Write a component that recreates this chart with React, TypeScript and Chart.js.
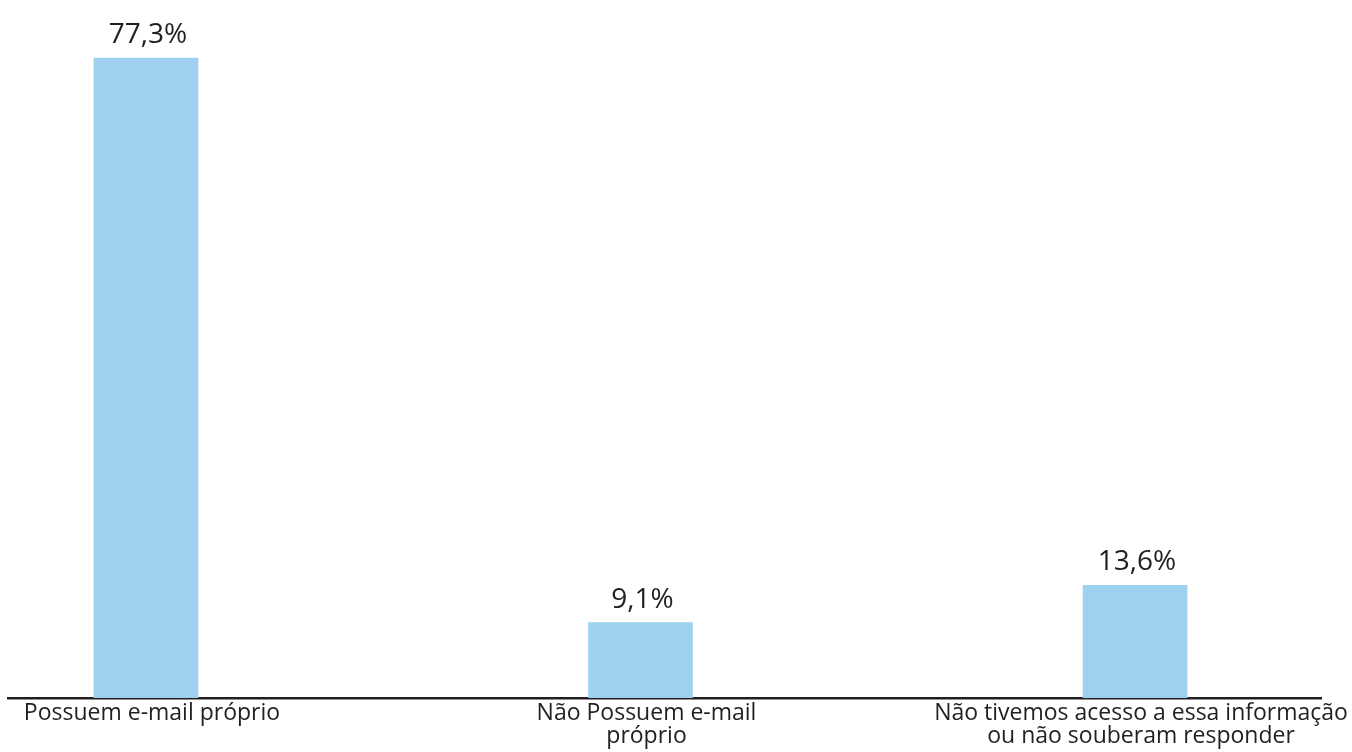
import React, { useEffect, useRef } from "react";
import { Chart, registerables } from "chart.js";

Chart.register(...registerables);

const categories: string[][] = [
  ["Possuem e-mail próprio"],
  ["Não Possuem e-mail", "próprio"],
  ["Não tivemos acesso a essa informação", "ou não souberam responder"],
];
const values: number[] = [77.3, 9.1, 13.6];
const valueLabels: string[] = ["77,3%", "9,1%", "13,6%"];

const BAR_COLOR = "#9dd1ef";
const TEXT_COLOR = "#231f20";
const FONT = "'Open Sans', 'Noto Sans', sans-serif";

const valueLabelPlugin = {
  id: "valueLabels",
  afterDatasetsDraw(chart: any) {
    const ctx = chart.ctx;
    const meta = chart.getDatasetMeta(0);
    ctx.save();
    ctx.font = `28px ${FONT}`;
    ctx.fillStyle = TEXT_COLOR;
    ctx.textAlign = "center";
    ctx.textBaseline = "alphabetic";
    meta.data.forEach((bar: any, i: number) => {
      ctx.fillText(valueLabels[i], bar.x + 2, bar.y - 15);
    });
    ctx.restore();
  },
};

export default function App() {
  const ref = useRef<HTMLCanvasElement | null>(null);

  useEffect(() => {
    document.body.style.margin = "0";
    const canvas = ref.current;
    if (!canvas) return;
    const chart = new Chart(canvas, {
      type: "bar",
      data: {
        datasets: [
          {
            data: values.map((v, i) => ({ x: i, y: v })),
            backgroundColor: BAR_COLOR,
            borderWidth: 0,
            barThickness: 104,
          },
        ],
      },
      options: {
        animation: false,
        responsive: false,
        maintainAspectRatio: false,
        layout: { padding: { left: 8, right: 31, top: 0, bottom: 0 } },
        plugins: { legend: { display: false }, tooltip: { enabled: false } },
        scales: {
          x: {
            type: "linear",
            offset: false,
            bounds: "data",
            min: -0.279,
            max: 2.376,
            grid: { display: false, drawTicks: false, tickLength: 0, offset: false },
            border: { display: true, color: TEXT_COLOR, width: 2.5 },
            afterBuildTicks: (scale: any) => {
              scale.ticks = categories.map((_, i) => ({ value: i }));
            },
            ticks: {
              autoSkip: false,
              maxRotation: 0,
              minRotation: 0,
              padding: 4,
              labelOffset: 6,
              color: TEXT_COLOR,
              font: { family: FONT, size: 23, lineHeight: 1.0 },
              callback: (v: any) => categories[Math.round(Number(v))] ?? "",
            },
          },
          y: {
            display: false,
            min: 0,
            max: 84.3,
          },
        },
      },
      plugins: [valueLabelPlugin],
    });
    return () => chart.destroy();
  }, []);

  return (
    <div style={{ width: 1352, height: 752 }}>
      <canvas ref={ref} width={1352} height={752} style={{ display: "block" }} />
    </div>
  );
}
